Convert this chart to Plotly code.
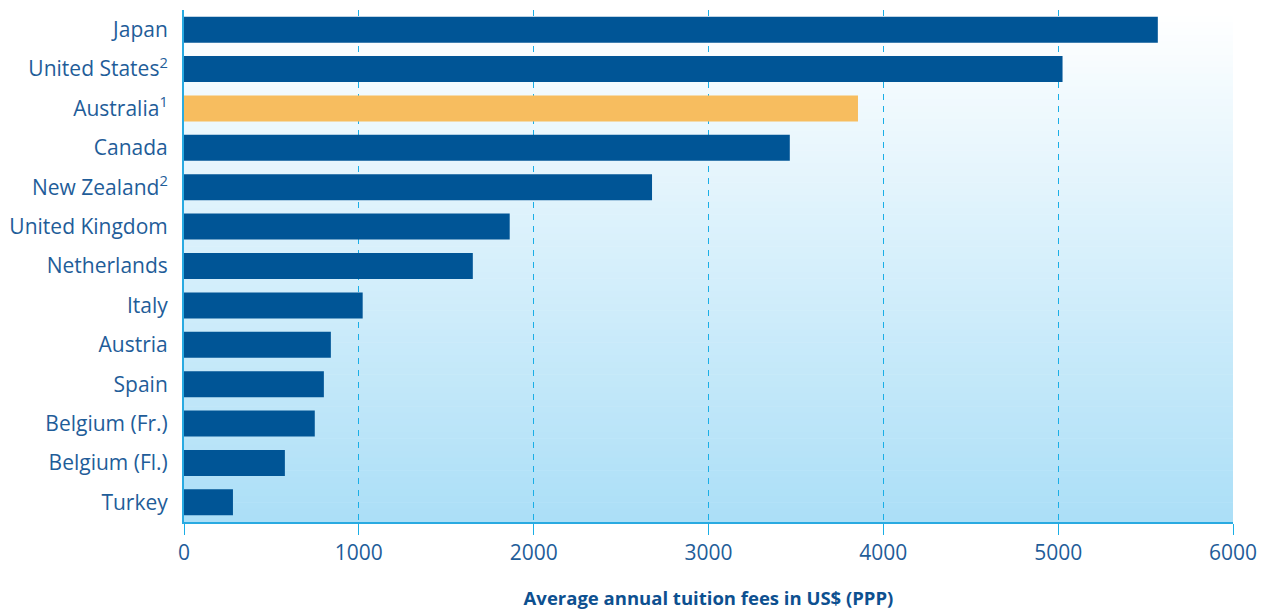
import plotly.graph_objects as go

countries = ["Japan", "United States<sup>2</sup>", "Australia<sup>1</sup>", "Canada",
             "New Zealand<sup>2</sup>", "United Kingdom", "Netherlands", "Italy",
             "Austria", "Spain", "Belgium (Fr.)", "Belgium (Fl.)", "Turkey"]
fees = [5570, 5025, 3855, 3465, 2677, 1863, 1652, 1022, 840, 800, 748, 577, 280]
highlight = "Australia<sup>1</sup>"

bar_colors = ["#f7bd5f" if c == highlight else "#005596" for c in countries]
text_color = "#1f5d99"

fig = go.Figure()
fig.add_trace(go.Bar(
    y=countries, x=fees, orientation="h",
    marker=dict(color=bar_colors, line=dict(width=0)),
    width=0.66, hoverinfo="x+y",
))

# gradient background bands
n = 80
top = (255, 255, 255)
bot = (172, 223, 247)
shapes = []
for i in range(n):
    t = i / (n - 1)
    col = tuple(round(top[k] + (bot[k] - top[k]) * t) for k in range(3))
    shapes.append(dict(type="rect", xref="x domain", yref="y domain",
                       x0=0, x1=1, y0=1 - (i + 1) / n, y1=1 - i / n + 0.001,
                       fillcolor="rgb(%d,%d,%d)" % col, line=dict(width=0),
                       layer="below"))

fig.update_layout(
    width=1261, height=610,
    margin=dict(l=184, r=28, t=10, b=88),
    paper_bgcolor="white", plot_bgcolor="rgba(0,0,0,0)",
    showlegend=False,
    shapes=shapes,
    font=dict(family="Open Sans", color=text_color),
    xaxis=dict(
        automargin=False,
        range=[0, 6000], tickvals=[0, 1000, 2000, 3000, 4000, 5000, 6000],
        showgrid=True, gridcolor="#1aaee6", griddash="6px,6px", gridwidth=1,
        zeroline=False, showline=True, linecolor="#29aae1", linewidth=2,
        ticks="outside", ticklen=11, tickcolor="#1aaee6", tickwidth=1,
        tickfont=dict(size=21, color=text_color),
        title=dict(text="<b>Average annual tuition fees in US$ (PPP)</b>",
                   font=dict(size=18.5, color="#0d5090"), standoff=28),
    ),
    yaxis=dict(
        automargin=False,
        autorange=False, range=[12.5, -0.5],
        showline=True, linecolor="#29aae1", linewidth=2,
        showgrid=False, ticks="", ticklabelstandoff=10,
        tickfont=dict(size=21, color=text_color),
    ),
)

fig.write_html("out.html", config={"displayModeBar": False},
               post_script="document.body.style.margin='0';")
